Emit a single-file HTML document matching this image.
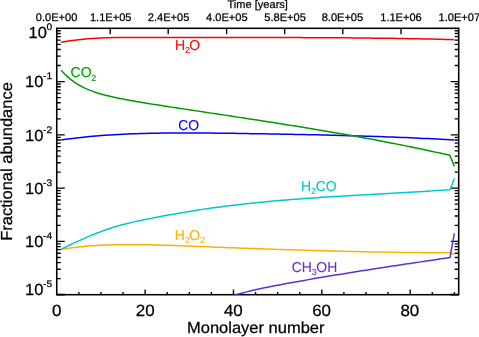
<!DOCTYPE html>
<html><head><meta charset="utf-8"><title>plot</title>
<style>
html,body{margin:0;padding:0;background:#fff;}
body{width:479px;height:337px;overflow:hidden;font-family:"Liberation Sans",sans-serif;}
svg{display:block;will-change:transform;}
</style></head><body>
<svg width="479" height="337" viewBox="0 0 479 337">
<rect width="479" height="337" fill="#fff"/>
<defs><clipPath id="cp"><rect x="56.75" y="28.30" width="401.95" height="266.40"/></clipPath></defs>
<rect x="56.75" y="28.30" width="401.95" height="266.40" fill="none" stroke="#000" stroke-width="1.55"/>
<path d="M56.75 65.54h4M458.70 65.54h-4M56.75 56.16h4M458.70 56.16h-4M56.75 49.50h4M458.70 49.50h-4M56.75 44.34h4M458.70 44.34h-4M56.75 40.12h4M458.70 40.12h-4M56.75 36.55h4M458.70 36.55h-4M56.75 33.46h4M458.70 33.46h-4M56.75 30.74h4M458.70 30.74h-4M56.75 81.58h8M458.70 81.58h-8M56.75 118.82h4M458.70 118.82h-4M56.75 109.44h4M458.70 109.44h-4M56.75 102.78h4M458.70 102.78h-4M56.75 97.62h4M458.70 97.62h-4M56.75 93.40h4M458.70 93.40h-4M56.75 89.83h4M458.70 89.83h-4M56.75 86.74h4M458.70 86.74h-4M56.75 84.02h4M458.70 84.02h-4M56.75 134.86h8M458.70 134.86h-8M56.75 172.10h4M458.70 172.10h-4M56.75 162.72h4M458.70 162.72h-4M56.75 156.06h4M458.70 156.06h-4M56.75 150.90h4M458.70 150.90h-4M56.75 146.68h4M458.70 146.68h-4M56.75 143.11h4M458.70 143.11h-4M56.75 140.02h4M458.70 140.02h-4M56.75 137.30h4M458.70 137.30h-4M56.75 188.14h8M458.70 188.14h-8M56.75 225.38h4M458.70 225.38h-4M56.75 216.00h4M458.70 216.00h-4M56.75 209.34h4M458.70 209.34h-4M56.75 204.18h4M458.70 204.18h-4M56.75 199.96h4M458.70 199.96h-4M56.75 196.39h4M458.70 196.39h-4M56.75 193.30h4M458.70 193.30h-4M56.75 190.58h4M458.70 190.58h-4M56.75 241.42h8M458.70 241.42h-8M56.75 278.66h4M458.70 278.66h-4M56.75 269.28h4M458.70 269.28h-4M56.75 262.62h4M458.70 262.62h-4M56.75 257.46h4M458.70 257.46h-4M56.75 253.24h4M458.70 253.24h-4M56.75 249.67h4M458.70 249.67h-4M56.75 246.58h4M458.70 246.58h-4M56.75 243.86h4M458.70 243.86h-4M78.84 294.70v-2.6M100.93 294.70v-2.6M123.02 294.70v-2.6M145.11 294.70v-5.3M167.20 294.70v-2.6M189.29 294.70v-2.6M211.38 294.70v-2.6M233.47 294.70v-5.3M255.56 294.70v-2.6M277.65 294.70v-2.6M299.74 294.70v-2.6M321.83 294.70v-5.3M343.92 294.70v-2.6M366.01 294.70v-2.6M388.10 294.70v-2.6M410.19 294.70v-5.3M432.28 294.70v-2.6M454.37 294.70v-2.6M110.20 28.30v5.9M168.20 28.30v5.9M226.60 28.30v5.9M284.70 28.30v5.9M342.80 28.30v5.9M401.00 28.30v5.9" fill="none" stroke="#000" stroke-width="1.35"/>
<path d="M56.75 294.65h8.5M458.70 294.65h-8.5" fill="none" stroke="#000" stroke-width="1.9"/>
<g clip-path="url(#cp)" fill="none" stroke-width="1.5" stroke-linejoin="round">
<path d="M61.20 42.28 L65.59 41.48 L70.00 40.78 L74.42 40.17 L78.84 39.65 L83.26 39.21 L87.68 38.83 L92.09 38.51 L96.51 38.25 L100.93 38.02 L105.35 37.84 L109.77 37.69 L114.18 37.58 L118.60 37.50 L123.02 37.44 L127.44 37.40 L131.86 37.39 L136.27 37.38 L140.69 37.39 L145.11 37.40 L149.53 37.42 L153.95 37.43 L158.36 37.45 L162.78 37.46 L167.20 37.47 L171.62 37.48 L176.04 37.49 L180.45 37.49 L184.87 37.50 L189.29 37.50 L193.71 37.51 L198.13 37.51 L202.54 37.52 L206.96 37.52 L211.38 37.52 L215.80 37.52 L220.22 37.52 L224.63 37.53 L229.05 37.53 L233.47 37.53 L237.89 37.53 L242.31 37.53 L246.72 37.53 L251.14 37.54 L255.56 37.54 L259.98 37.54 L264.40 37.55 L268.81 37.55 L273.23 37.56 L277.65 37.57 L282.07 37.57 L286.49 37.58 L290.90 37.59 L295.32 37.60 L299.74 37.62 L304.16 37.63 L308.58 37.65 L312.99 37.66 L317.41 37.68 L321.83 37.70 L326.25 37.73 L330.67 37.75 L335.08 37.78 L339.50 37.81 L343.92 37.84 L348.34 37.87 L352.76 37.91 L357.17 37.95 L361.59 37.99 L366.01 38.03 L370.43 38.08 L374.85 38.13 L379.26 38.18 L383.68 38.24 L388.10 38.29 L392.52 38.36 L396.94 38.42 L401.35 38.49 L405.77 38.56 L410.19 38.64 L414.61 38.72 L419.03 38.80 L423.44 38.89 L427.86 38.98 L432.28 39.08 L436.70 39.18 L441.12 39.28 L445.53 39.39 L449.90 39.50 L454.30 39.70" stroke="#ff0000"/>
<path d="M61.20 139.99 L65.59 139.35 L70.00 138.74 L74.42 138.18 L78.84 137.65 L83.26 137.16 L87.68 136.71 L92.09 136.29 L96.51 135.91 L100.93 135.56 L105.35 135.23 L109.77 134.94 L114.18 134.67 L118.60 134.43 L123.02 134.21 L127.44 134.02 L131.86 133.85 L136.27 133.69 L140.69 133.56 L145.11 133.44 L149.53 133.34 L153.95 133.25 L158.36 133.17 L162.78 133.11 L167.20 133.06 L171.62 133.02 L176.04 132.99 L180.45 132.97 L184.87 132.96 L189.29 132.96 L193.71 132.97 L198.13 132.99 L202.54 133.02 L206.96 133.05 L211.38 133.09 L215.80 133.14 L220.22 133.19 L224.63 133.24 L229.05 133.30 L233.47 133.36 L237.89 133.43 L242.31 133.50 L246.72 133.57 L251.14 133.64 L255.56 133.72 L259.98 133.79 L264.40 133.87 L268.81 133.94 L273.23 134.02 L277.65 134.10 L282.07 134.18 L286.49 134.26 L290.90 134.34 L295.32 134.42 L299.74 134.51 L304.16 134.60 L308.58 134.69 L312.99 134.78 L317.41 134.87 L321.83 134.97 L326.25 135.07 L330.67 135.18 L335.08 135.29 L339.50 135.40 L343.92 135.51 L348.34 135.63 L352.76 135.75 L357.17 135.88 L361.59 136.01 L366.01 136.15 L370.43 136.29 L374.85 136.43 L379.26 136.59 L383.68 136.74 L388.10 136.90 L392.52 137.07 L396.94 137.24 L401.35 137.42 L405.77 137.60 L410.19 137.79 L414.61 137.99 L419.03 138.19 L423.44 138.40 L427.86 138.62 L432.28 138.84 L436.70 139.07 L441.12 139.31 L445.53 139.56 L449.90 139.81 L454.30 140.00" stroke="#0000ff"/>
<path d="M61.17 70.31 L65.59 74.91 L70.00 78.84 L74.42 82.18 L78.84 85.01 L83.26 87.40 L87.68 89.42 L92.09 91.15 L96.51 92.67 L100.93 94.03 L105.35 95.25 L109.77 96.35 L114.18 97.35 L118.60 98.26 L123.02 99.11 L127.44 99.92 L131.86 100.71 L136.27 101.47 L140.69 102.22 L145.11 102.96 L149.53 103.67 L153.95 104.38 L158.36 105.08 L162.78 105.77 L167.20 106.45 L171.62 107.12 L176.04 107.79 L180.45 108.46 L184.87 109.12 L189.29 109.79 L193.71 110.46 L198.13 111.12 L202.54 111.79 L206.96 112.45 L211.38 113.12 L215.80 113.78 L220.22 114.45 L224.63 115.12 L229.05 115.78 L233.47 116.45 L237.89 117.13 L242.31 117.80 L246.72 118.47 L251.14 119.15 L255.56 119.83 L259.98 120.51 L264.40 121.20 L268.81 121.89 L273.23 122.58 L277.65 123.27 L282.07 123.97 L286.49 124.67 L290.90 125.38 L295.32 126.09 L299.74 126.81 L304.16 127.53 L308.58 128.25 L312.99 128.98 L317.41 129.72 L321.83 130.46 L326.25 131.21 L330.67 131.96 L335.08 132.72 L339.50 133.48 L343.92 134.26 L348.34 135.04 L352.76 135.82 L357.17 136.61 L361.59 137.42 L366.01 138.22 L370.43 139.04 L374.85 139.86 L379.26 140.70 L383.68 141.54 L388.10 142.39 L392.52 143.25 L396.94 144.12 L401.35 144.99 L405.77 145.88 L410.19 146.78 L414.61 147.68 L419.03 148.60 L423.44 149.53 L427.86 150.47 L432.28 151.42 L436.70 152.38 L441.12 153.35 L445.53 154.33 L449.90 155.31 L454.35 166.40" stroke="#009a00"/>
<path d="M61.17 249.35 L65.59 248.64 L70.00 248.01 L74.42 247.44 L78.84 246.94 L83.26 246.50 L87.68 246.11 L92.09 245.78 L96.51 245.50 L100.93 245.27 L105.35 245.07 L109.77 244.92 L114.18 244.81 L118.60 244.72 L123.02 244.67 L127.44 244.64 L131.86 244.64 L136.27 244.66 L140.69 244.70 L145.11 244.75 L149.53 244.83 L153.95 244.92 L158.36 245.03 L162.78 245.15 L167.20 245.28 L171.62 245.42 L176.04 245.57 L180.45 245.73 L184.87 245.90 L189.29 246.07 L193.71 246.24 L198.13 246.42 L202.54 246.60 L206.96 246.78 L211.38 246.95 L215.80 247.13 L220.22 247.30 L224.63 247.47 L229.05 247.64 L233.47 247.81 L237.89 247.98 L242.31 248.14 L246.72 248.30 L251.14 248.47 L255.56 248.62 L259.98 248.78 L264.40 248.94 L268.81 249.09 L273.23 249.24 L277.65 249.39 L282.07 249.53 L286.49 249.68 L290.90 249.82 L295.32 249.96 L299.74 250.09 L304.16 250.23 L308.58 250.36 L312.99 250.49 L317.41 250.61 L321.83 250.73 L326.25 250.85 L330.67 250.97 L335.08 251.08 L339.50 251.20 L343.92 251.30 L348.34 251.41 L352.76 251.51 L357.17 251.61 L361.59 251.70 L366.01 251.79 L370.43 251.88 L374.85 251.96 L379.26 252.04 L383.68 252.12 L388.10 252.20 L392.52 252.26 L396.94 252.33 L401.35 252.39 L405.77 252.45 L410.19 252.50 L414.61 252.55 L419.03 252.60 L423.44 252.64 L427.86 252.68 L432.28 252.71 L436.70 252.74 L441.12 252.77 L445.53 252.79 L449.90 252.80 L454.35 254.70" stroke="#ffb000"/>
<path d="M61.17 249.32 L65.59 247.13 L70.00 244.98 L74.42 242.87 L78.84 240.81 L83.26 238.81 L87.68 236.88 L92.09 235.03 L96.51 233.26 L100.93 231.58 L105.35 229.99 L109.77 228.49 L114.18 227.08 L118.60 225.77 L123.02 224.55 L127.44 223.42 L131.86 222.36 L136.27 221.37 L140.69 220.42 L145.11 219.52 L149.53 218.64 L153.95 217.78 L158.36 216.93 L162.78 216.09 L167.20 215.28 L171.62 214.47 L176.04 213.69 L180.45 212.92 L184.87 212.17 L189.29 211.44 L193.71 210.73 L198.13 210.04 L202.54 209.37 L206.96 208.72 L211.38 208.09 L215.80 207.48 L220.22 206.89 L224.63 206.32 L229.05 205.76 L233.47 205.22 L237.89 204.70 L242.31 204.20 L246.72 203.71 L251.14 203.23 L255.56 202.78 L259.98 202.33 L264.40 201.90 L268.81 201.48 L273.23 201.08 L277.65 200.69 L282.07 200.31 L286.49 199.94 L290.90 199.58 L295.32 199.23 L299.74 198.89 L304.16 198.56 L308.58 198.24 L312.99 197.93 L317.41 197.63 L321.83 197.33 L326.25 197.04 L330.67 196.76 L335.08 196.48 L339.50 196.21 L343.92 195.94 L348.34 195.68 L352.76 195.42 L357.17 195.17 L361.59 194.91 L366.01 194.66 L370.43 194.42 L374.85 194.17 L379.26 193.92 L383.68 193.68 L388.10 193.43 L392.52 193.19 L396.94 192.94 L401.35 192.69 L405.77 192.44 L410.19 192.19 L414.61 191.93 L419.03 191.67 L423.44 191.40 L427.86 191.14 L432.28 190.86 L436.70 190.58 L441.12 190.30 L445.53 190.01 L449.95 189.71 L454.40 178.40" stroke="#00c8c8"/>
<path d="M229.05 297.08 L233.47 295.64 L237.89 294.30 L242.31 293.05 L246.72 291.88 L251.14 290.78 L255.56 289.74 L259.98 288.76 L264.40 287.83 L268.81 286.94 L273.23 286.08 L277.65 285.23 L282.07 284.41 L286.49 283.59 L290.90 282.78 L295.32 281.97 L299.74 281.18 L304.16 280.39 L308.58 279.62 L312.99 278.85 L317.41 278.09 L321.83 277.33 L326.25 276.59 L330.67 275.85 L335.08 275.11 L339.50 274.39 L343.92 273.67 L348.34 272.96 L352.76 272.25 L357.17 271.55 L361.59 270.85 L366.01 270.16 L370.43 269.47 L374.85 268.79 L379.26 268.11 L383.68 267.43 L388.10 266.76 L392.52 266.09 L396.94 265.43 L401.35 264.76 L405.77 264.10 L410.19 263.44 L414.61 262.78 L419.03 262.12 L423.44 261.46 L427.86 260.80 L432.28 260.15 L436.70 259.49 L441.12 258.83 L445.53 258.17 L449.95 257.51 L454.40 233.40" stroke="#6030d0"/>
</g>
<g font-family="'Liberation Sans', sans-serif" stroke-width="0.25" stroke-linejoin="round" text-rendering="geometricPrecision">
<text transform="translate(257.70 7.80) scale(1.005 1)" font-size="11" text-anchor="middle" fill="#000" stroke="#000">Time [years]</text>
<text transform="translate(56.55 20.70) scale(1.005 1)" font-size="11" text-anchor="middle" fill="#000" stroke="#000">0.0E+00</text>
<text transform="translate(110.70 20.70) scale(1.005 1)" font-size="11" text-anchor="middle" fill="#000" stroke="#000">1.1E+05</text>
<text transform="translate(168.60 20.70) scale(1.005 1)" font-size="11" text-anchor="middle" fill="#000" stroke="#000">2.4E+05</text>
<text transform="translate(226.80 20.70) scale(1.005 1)" font-size="11" text-anchor="middle" fill="#000" stroke="#000">4.0E+05</text>
<text transform="translate(285.10 20.70) scale(1.005 1)" font-size="11" text-anchor="middle" fill="#000" stroke="#000">5.8E+05</text>
<text transform="translate(342.40 20.70) scale(1.005 1)" font-size="11" text-anchor="middle" fill="#000" stroke="#000">8.0E+05</text>
<text transform="translate(401.00 20.70) scale(1.005 1)" font-size="11" text-anchor="middle" fill="#000" stroke="#000">1.1E+06</text>
<text transform="translate(459.30 20.70) scale(1.005 1)" font-size="11" text-anchor="middle" fill="#000" stroke="#000">1.0E+07</text>
<text transform="translate(56.60 315.50) scale(1.040 1)" font-size="16.3" text-anchor="middle" fill="#000" stroke="#000">0</text>
<text transform="translate(145.20 315.50) scale(1.040 1)" font-size="16.3" text-anchor="middle" fill="#000" stroke="#000">20</text>
<text transform="translate(233.30 315.50) scale(1.040 1)" font-size="16.3" text-anchor="middle" fill="#000" stroke="#000">40</text>
<text transform="translate(321.60 315.50) scale(1.040 1)" font-size="16.3" text-anchor="middle" fill="#000" stroke="#000">60</text>
<text transform="translate(409.80 315.50) scale(1.040 1)" font-size="16.3" text-anchor="middle" fill="#000" stroke="#000">80</text>
<text transform="translate(255.75 332.70) scale(1.030 1)" font-size="16" text-anchor="middle" fill="#000" stroke="#000">Monolayer number</text>
<text transform="translate(11.80 161.45) rotate(-90) scale(1.030 1)" font-size="16" text-anchor="middle" fill="#000" stroke="#000">Fractional abundance</text>
<text transform="translate(28.50 37.95) scale(1.030 1)" font-size="16" text-anchor="start" fill="#000" stroke="#000">10</text><text transform="translate(46.50 30.05) scale(1.080 1)" font-size="9.5" text-anchor="start" fill="#000" stroke="#000">0</text>
<text transform="translate(25.00 87.38) scale(1.030 1)" font-size="16" text-anchor="start" fill="#000" stroke="#000">10</text><text transform="translate(43.00 79.48) scale(1.080 1)" font-size="9.5" text-anchor="start" fill="#000" stroke="#000">-1</text>
<text transform="translate(25.00 140.66) scale(1.030 1)" font-size="16" text-anchor="start" fill="#000" stroke="#000">10</text><text transform="translate(43.00 132.76) scale(1.080 1)" font-size="9.5" text-anchor="start" fill="#000" stroke="#000">-2</text>
<text transform="translate(25.00 193.94) scale(1.030 1)" font-size="16" text-anchor="start" fill="#000" stroke="#000">10</text><text transform="translate(43.00 186.04) scale(1.080 1)" font-size="9.5" text-anchor="start" fill="#000" stroke="#000">-3</text>
<text transform="translate(25.00 247.22) scale(1.030 1)" font-size="16" text-anchor="start" fill="#000" stroke="#000">10</text><text transform="translate(43.00 239.32) scale(1.080 1)" font-size="9.5" text-anchor="start" fill="#000" stroke="#000">-4</text>
<text transform="translate(25.00 294.95) scale(1.030 1)" font-size="16" text-anchor="start" fill="#000" stroke="#000">10</text><text transform="translate(43.00 287.05) scale(1.080 1)" font-size="9.5" text-anchor="start" fill="#000" stroke="#000">-5</text>
<g stroke-width="0.08"><text transform="translate(175.00 50.20) scale(0.975 1)" font-size="14.3" text-anchor="start" fill="#ff0000" stroke="#ff0000">H</text><text transform="translate(184.90 53.30)" font-size="9" text-anchor="start" fill="#ff0000" stroke="#ff0000">2</text><text transform="translate(189.30 50.20) scale(0.975 1)" font-size="14.3" text-anchor="start" fill="#ff0000" stroke="#ff0000">O</text></g>
<g stroke-width="0.08"><text transform="translate(70.60 77.40) scale(0.975 1)" font-size="14.3" text-anchor="start" fill="#009a00" stroke="#009a00">CO</text><text transform="translate(91.30 80.50)" font-size="9" text-anchor="start" fill="#009a00" stroke="#009a00">2</text></g>
<g stroke-width="0.08"><text transform="translate(178.20 130.30) scale(0.975 1)" font-size="14.3" text-anchor="start" fill="#0000ff" stroke="#0000ff">CO</text></g>
<g stroke-width="0.08"><text transform="translate(301.00 190.70) scale(0.975 1)" font-size="14.3" text-anchor="start" fill="#00c8c8" stroke="#00c8c8">H</text><text transform="translate(311.10 193.80)" font-size="9" text-anchor="start" fill="#00c8c8" stroke="#00c8c8">2</text><text transform="translate(315.80 190.70) scale(0.975 1)" font-size="14.3" text-anchor="start" fill="#00c8c8" stroke="#00c8c8">CO</text></g>
<g stroke-width="0.08"><text transform="translate(174.80 239.80) scale(0.975 1)" font-size="14.3" text-anchor="start" fill="#ffb000" stroke="#ffb000">H</text><text transform="translate(184.90 242.90)" font-size="9" text-anchor="start" fill="#ffb000" stroke="#ffb000">2</text><text transform="translate(189.30 239.80) scale(0.975 1)" font-size="14.3" text-anchor="start" fill="#ffb000" stroke="#ffb000">O</text><text transform="translate(200.00 242.90)" font-size="9" text-anchor="start" fill="#ffb000" stroke="#ffb000">2</text></g>
<g stroke-width="0.08"><text transform="translate(291.80 271.70) scale(0.975 1)" font-size="14.3" text-anchor="start" fill="#6030d0" stroke="#6030d0">CH</text><text transform="translate(311.80 274.80)" font-size="9" text-anchor="start" fill="#6030d0" stroke="#6030d0">3</text><text transform="translate(316.30 271.70) scale(0.975 1)" font-size="14.3" text-anchor="start" fill="#6030d0" stroke="#6030d0">OH</text></g>
</g>
</svg>
</body></html>
